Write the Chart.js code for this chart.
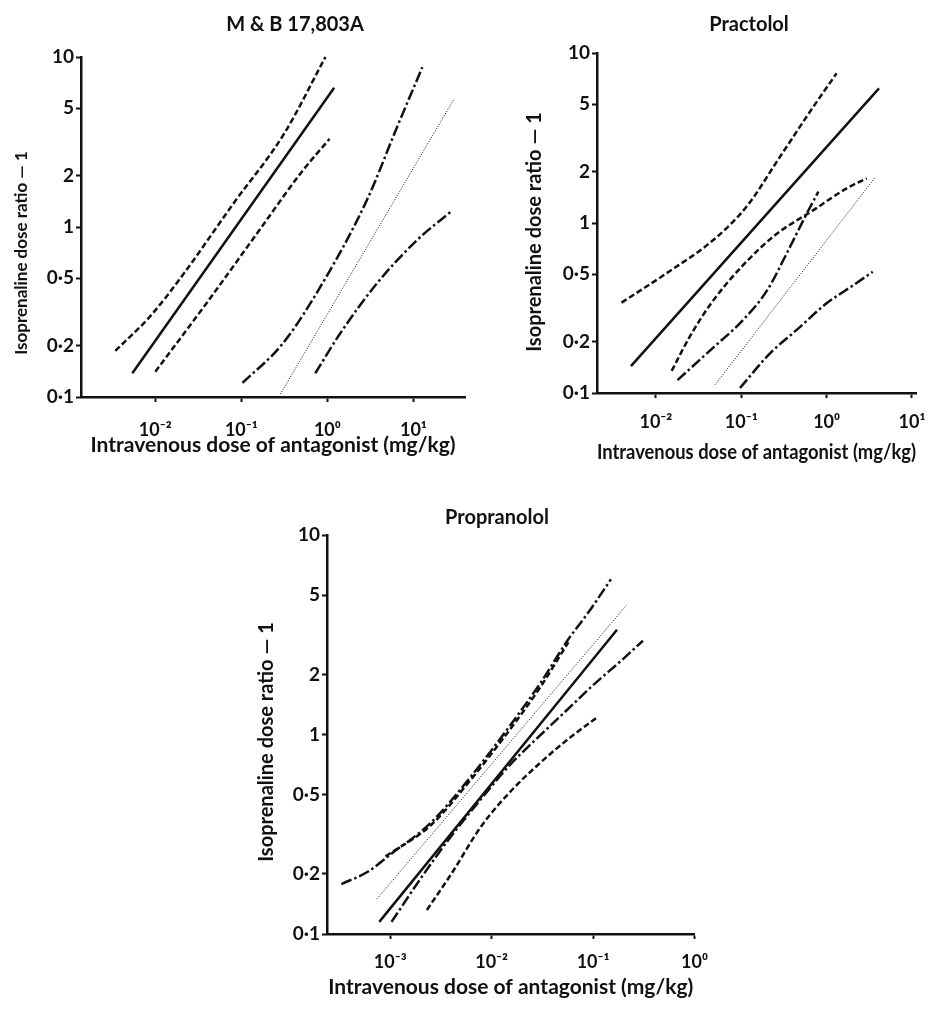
<!DOCTYPE html>
<html>
<head>
<meta charset="utf-8">
<script src="https://cdn.jsdelivr.net/npm/chart.js@4.4.1/dist/chart.umd.min.js"></script>
<style>
  body { margin: 0; background: #fff; }
  #wrap { position: relative; width: 949px; height: 1019px; }
  canvas { position: absolute; }
</style>
</head>
<body>
<div id="wrap">
  <canvas id="mb" width="480" height="470" style="left:0;top:0"></canvas>
  <canvas id="pr" width="469" height="470" style="left:480px;top:0"></canvas>
  <canvas id="prop" width="480" height="539" style="left:240px;top:480px"></canvas>
</div>
<script>
// tick values and labels
const yTicks = [0.1, 0.2, 0.5, 1, 2, 5, 10];
const yTickLabels = ['0·1', '0·2', '0·5', '1', '2', '5', '10'];
const mbXTicks = [0.01, 0.1, 1, 10];
const mbXLabels = ['10⁻²', '10⁻¹', '10⁰', '10¹'];
const prXTicks = [0.01, 0.1, 1, 10];
const prXLabels = ['10⁻²', '10⁻¹', '10⁰', '10¹'];
const propXTicks = [0.001, 0.01, 0.1, 1];
const propXLabels = ['10⁻³', '10⁻²', '10⁻¹', '10⁰'];

// M & B 17,803A  [dose mg/kg, dose ratio - 1]
const mbUpperDash = [[0.00343, 0.187], [0.0088, 0.3], [0.0213, 0.53], [0.0813, 1.38], [0.31, 3.5], [0.95, 10]];
const mbSolid = [[0.0054, 0.138], [1.2, 6.6]];
const mbLowerDash = [[0.01, 0.141], [0.04, 0.36], [0.16, 0.95], [0.5, 2.1], [1.06, 3.3]];
const mbUpperDashDot = [[0.103, 0.121], [0.3, 0.205], [0.95, 0.5], [2.9, 1.45], [6.5, 3.9], [12.7, 8.7]];
const mbDotted = [[0.284, 0.104], [29.2, 5.58]];
const mbLowerDashDot = [[0.724, 0.138], [1.42, 0.238], [3.81, 0.469], [11.1, 0.84], [27.7, 1.24]];

// Practolol
const prUpperDash = [[0.00396, 0.34], [0.0133, 0.506], [0.047, 0.794], [0.1157, 1.25], [0.284, 2.45], [0.699, 4.83], [1.31, 7.6]];
const prSolid = [[0.0051, 0.144], [4.11, 6.2]];
const prMidDash = [[0.0153, 0.135], [0.025, 0.215], [0.045, 0.34], [0.1, 0.55], [0.25, 0.85], [0.7, 1.19], [1.72, 1.6], [2.95, 1.83]];
const prDashDot = [[0.0179, 0.119], [0.047, 0.185], [0.1, 0.262], [0.2, 0.4], [0.35, 0.68], [0.55, 1.07], [0.8, 1.53]];
const prDotted = [[0.0495, 0.112], [3.69, 1.85]];
const prLowerDashDot = [[0.0966, 0.107], [0.217, 0.171], [0.446, 0.235], [1.0, 0.337], [2.06, 0.431], [3.47, 0.517]];

// Propranolol
const propUpperDashDot = [[0.00033, 0.178], [0.0006, 0.205], [0.001, 0.25], [0.0025, 0.36], [0.006, 0.6], [0.016, 1.15], [0.03, 1.8], [0.057, 3.0], [0.09, 4.1], [0.15, 6.0]];
const propUpperDash = [[0.0009, 0.245], [0.0025, 0.35], [0.006, 0.58], [0.016, 1.1], [0.03, 1.72], [0.057, 2.9]];
const propDotted = [[0.00074, 0.15], [0.214, 4.45]];
const propSolid = [[0.00078, 0.115], [0.172, 3.35]];
const propLowerDashDot = [[0.00103, 0.115], [0.002, 0.19], [0.004, 0.31], [0.008, 0.48], [0.015, 0.7], [0.027, 0.94], [0.053, 1.3], [0.104, 1.8], [0.19, 2.35], [0.31, 2.95]];
const propLowerDash = [[0.0023, 0.132], [0.004, 0.2], [0.008, 0.35], [0.016, 0.53], [0.03, 0.72], [0.06, 0.97], [0.11, 1.22]];

const ink = '#111';
const fam = 'Lato, "Open Sans", sans-serif';

const styles = {
  solid: { borderWidth: 2.5, borderDash: [] },
  dash: { borderWidth: 2.5, borderDash: [6, 3] },
  dashdot: { borderWidth: 2.5, borderDash: [11, 3, 2.5, 3] },
  dotted: { borderWidth: 1, borderDash: [1, 1.5] }
};

function line(points, kind) {
  return Object.assign({
    data: points.map(p => ({ x: p[0], y: p[1] })),
    borderColor: ink,
    pointRadius: 0,
    fill: false,
    cubicInterpolationMode: 'monotone',
    clip: false
  }, styles[kind]);
}

// free text drawn on the canvas (panel titles, rotated y titles)
const textPlugin = {
  id: 'freeText',
  afterDraw(chart, args, opts) {
    const ctx = chart.ctx;
    (opts.items || []).forEach(t => {
      ctx.save();
      ctx.translate(t.x, t.y);
      if (t.rotate) ctx.rotate(-Math.PI / 2);
      ctx.font = 'bold ' + t.size + 'px ' + fam;
      ctx.fillStyle = ink;
      ctx.textAlign = 'center';
      ctx.textBaseline = 'middle';
      ctx.fillText(t.text, 0, 0);
      ctx.restore();
    });
  }
};

function makeChart(id, cfg) {
  const axisGrid = { display: true, drawOnChartArea: false, drawTicks: true, tickLength: 5, tickWidth: 2, tickColor: ink };
  const axisBorder = { display: true, width: 2.5, color: ink };
  return new Chart(document.getElementById(id), {
    type: 'line',
    data: { datasets: cfg.datasets },
    plugins: [textPlugin],
    options: {
      responsive: false,
      animation: false,
      devicePixelRatio: 1,
      layout: { padding: cfg.padding },
      plugins: {
        legend: { display: false },
        tooltip: { enabled: false },
        freeText: { items: cfg.texts }
      },
      scales: {
        x: {
          type: 'logarithmic',
          min: cfg.xMin,
          max: cfg.xMax,
          grid: axisGrid,
          border: axisBorder,
          afterBuildTicks: s => { s.ticks = cfg.xTicks.map(v => ({ value: v })); },
          afterFit: s => { s.height = cfg.xHeight; },
          ticks: {
            autoSkip: false,
            maxRotation: 0,
            padding: cfg.xTickPad,
            color: ink,
            font: { family: fam, size: 18, weight: 'bold' },
            callback: v => cfg.xLabels[cfg.xTicks.indexOf(v)]
          },
          title: {
            display: true,
            text: 'Intravenous dose of antagonist (mg/kg)',
            color: ink,
            font: { family: fam, size: 21, weight: 'bold' },
            padding: { top: 0, bottom: cfg.xTitlePad }
          }
        },
        y: {
          type: 'logarithmic',
          min: 0.1,
          max: 10,
          grid: axisGrid,
          border: axisBorder,
          afterBuildTicks: s => { s.ticks = yTicks.map(v => ({ value: v })); },
          afterFit: s => { s.width = cfg.yWidth; },
          ticks: {
            autoSkip: false,
            padding: 2,
            color: ink,
            font: { family: fam, size: 19, weight: 'bold' },
            callback: v => yTickLabels[yTicks.indexOf(v)]
          }
        }
      }
    }
  });
}

makeChart('mb', {
  datasets: [
    line(mbUpperDash, 'dash'), line(mbSolid, 'solid'), line(mbLowerDash, 'dash'),
    line(mbUpperDashDot, 'dashdot'), line(mbDotted, 'dotted'), line(mbLowerDashDot, 'dashdot')
  ],
  xMin: Math.pow(10, -2.864), xMax: Math.pow(10, 1.6),
  xTicks: mbXTicks, xLabels: mbXLabels,
  padding: { left: 0, right: 15, top: 57, bottom: 0 },
  yWidth: 81, xHeight: 73, xTickPad: 17, xTitlePad: 12,
  texts: [
    { text: 'M & B 17,803A', x: 295, y: 25, size: 20 },
    { text: 'Isoprenaline dose ratio — 1', x: 22, y: 253, size: 17, rotate: true }
  ]
});

makeChart('pr', {
  datasets: [
    line(prUpperDash, 'dash'), line(prSolid, 'solid'), line(prMidDash, 'dash'),
    line(prDashDot, 'dashdot'), line(prDotted, 'dotted'), line(prLowerDashDot, 'dashdot')
  ],
  xMin: Math.pow(10, -2.69), xMax: Math.pow(10, 1.047),
  xTicks: prXTicks, xLabels: prXLabels,
  padding: { left: 0, right: 33, top: 53, bottom: 0 },
  yWidth: 117, xHeight: 77, xTickPad: 13, xTitlePad: 5,
  texts: [
    { text: 'Practolol', x: 269, y: 25, size: 20 },
    { text: 'Isoprenaline dose ratio — 1', x: 55, y: 232, size: 20, rotate: true }
  ]
});

makeChart('prop', {
  datasets: [
    line(propUpperDashDot, 'dashdot'), line(propUpperDash, 'dash'), line(propDotted, 'dotted'),
    line(propSolid, 'solid'), line(propLowerDashDot, 'dashdot'), line(propLowerDash, 'dash')
  ],
  xMin: Math.pow(10, -3.623), xMax: 1,
  xTicks: propXTicks, xLabels: propXLabels,
  padding: { left: 0, right: 18, top: 55, bottom: 0 },
  yWidth: 87, xHeight: 85, xTickPad: 12, xTitlePad: 19,
  texts: [
    { text: 'Propranolol', x: 257, y: 38, size: 20 },
    { text: 'Isoprenaline dose ratio — 1', x: 27, y: 262, size: 20, rotate: true }
  ]
});
</script>
</body>
</html>
